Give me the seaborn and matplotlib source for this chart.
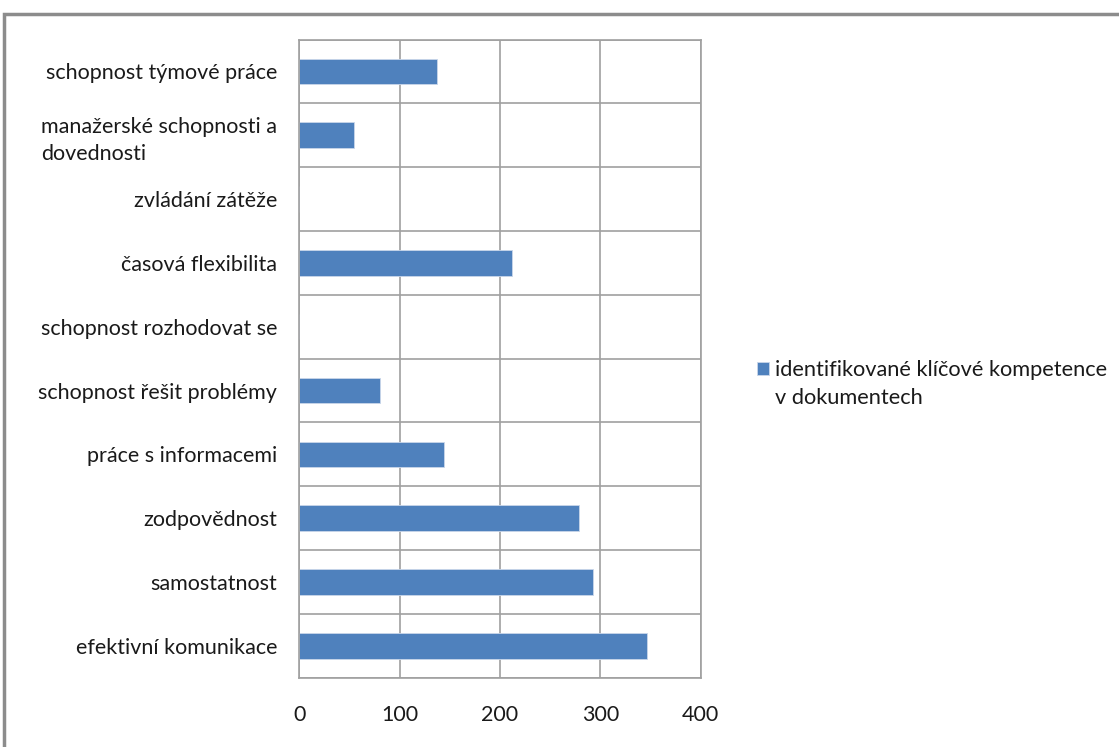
import matplotlib
matplotlib.use("Agg")
import matplotlib.pyplot as plt
import seaborn as sns
import pandas as pd

# categories listed top to bottom as in the chart
categories = [
    "schopnost týmové práce",
    "manažerské schopnosti a\ndovednosti",
    "zvládání zátěže",
    "časová flexibilita",
    "schopnost rozhodovat se",
    "schopnost řešit problémy",
    "práce s informacemi",
    "zodpovědnost",
    "samostatnost",
    "efektivní komunikace",
]
counts = [137, 54, 0, 212, 0, 80, 144, 279, 293, 346]
series_name = "identifikované klíčové kompetence\nv dokumentech"
x_ticks = [0, 100, 200, 300, 400]

df = pd.DataFrame({"kompetence": categories, "pocet": counts})

sns.set_style("white")
plt.rcParams["font.family"] = ["Lato", "DejaVu Sans"]

fig = plt.figure(figsize=(11.19, 7.47), dpi=100)
ax = fig.add_axes([0.2675, 0.0928, 0.3587, 0.8543])

name_first, name_rest = series_name.split("\n", 1)

sns.barplot(data=df, y="kompetence", x="pocet", orient="h", color="#4F81BD",
            saturation=1, width=0.4, label=name_first, ax=ax,
            edgecolor="#c9d6ea", linewidth=0.6)

grid_col = "#a0a0a0"
text_col = "#1a1a1a"
ax.set_xlim(0, 400)
ax.set_ylim(len(categories) - 0.5, -0.5)
ax.set_xticks(x_ticks)
ax.set_xticklabels([str(v) for v in x_ticks], fontsize=15.5, color=text_col)
ax.set_yticks(range(len(categories)))
ax.set_yticklabels(categories, fontsize=15.5, color=text_col, linespacing=1.4)
for t in ax.get_yticklabels():
    t.set_multialignment("left")
ax.set_yticks([i + 0.5 for i in range(-1, len(categories))], minor=True)

ax.tick_params(axis="y", which="major", length=0, pad=16)
ax.tick_params(axis="y", which="minor", length=5, color=grid_col, width=1.2)
ax.tick_params(axis="x", which="major", length=6, color=grid_col, width=1.2, pad=14)

ax.grid(axis="x", which="major", color=grid_col, linewidth=1.2)
ax.grid(axis="y", which="minor", color=grid_col, linewidth=1.2)
ax.set_axisbelow(True)
for s in ax.spines.values():
    s.set_color(grid_col)
    s.set_linewidth(1.2)

ax.set_xlabel("")
ax.set_ylabel("")

leg = ax.legend(loc="center left", bbox_to_anchor=(757 / 1119, 1 - 370 / 747),
                bbox_transform=fig.transFigure, frameon=False, fontsize=15.7,
                handlelength=0.55, handleheight=0.55, handletextpad=0.28,
                borderpad=0, borderaxespad=0)
leg.get_texts()[0].set_color(text_col)

# second line of the legend label, left-aligned under the first line
fig.canvas.draw()
bb = leg.get_texts()[0].get_window_extent().transformed(fig.transFigure.inverted())
fig.text(bb.x0, 1 - 398 / 747, name_rest, fontsize=15.7, color=text_col,
         ha="left", va="center")

# outer chart border (partially visible in the reference)
fig.add_artist(plt.Rectangle((0.004, -0.1), 1.2, 1.081, transform=fig.transFigure,
                             fill=False, edgecolor="#8c8c8c", linewidth=2.5,
                             clip_on=False))

fig.savefig("out.png", dpi=100)
